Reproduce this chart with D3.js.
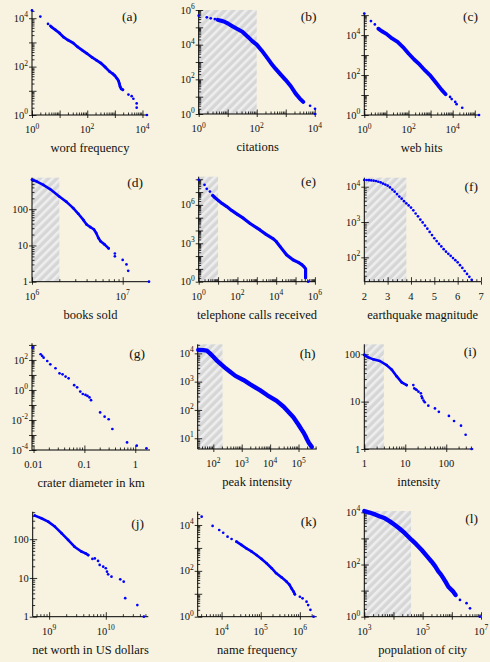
<!DOCTYPE html>
<html><head><meta charset="utf-8">
<script src="https://cdn.jsdelivr.net/npm/d3@7"></script>
<style>
html,body{margin:0;padding:0;background:#f7f3e0;}
svg{display:block;}
</style></head><body>
<svg id="chart" width="490" height="662"></svg>
<script>
// ---------------- DATA ----------------
const panelLetters = ['(a)','(b)','(c)','(d)','(e)','(f)','(g)','(h)','(i)','(j)','(k)','(l)'];
const axisTitles = ['word frequency','citations','web hits','books sold','telephone calls received',
  'earthquake magnitude','crater diameter in km','peak intensity','intensity',
  'net worth in US dollars','name frequency','population of city'];

// (a) word frequency
const wordFreqCurve = [[5,4400],[7,3300],[10,2400],[14,1650],[20,1250],[31,940],[45,650],[65,480],[100,340],[150,240],[220,180],[316,138],[450,95],[650,62],[850,50],[1000,42],[1200,32],[1350,26],[1450,20],[1550,15],[1700,12],[1950,11]];
const wordFreqPoints = [[1,21000],[2,11700],[3.8,5800],[4.6,4800],[3100,7],[4070,6],[4680,4.7],[6170,3],[6170,2],[14500,1]];
const wordFreqXTicks = [1,1e2,1e4];
const wordFreqYTicks = [1,1e2,1e4];

// (b) citations
const citationsCurve = [[4.5,270000],[6,240000],[8,205000],[10,170000],[14,120000],[20,85000],[32,56000],[50,28000],[70,16000],[100,10000],[150,4500],[220,1900],[316,830],[450,400],[650,200],[1000,91],[1500,40],[2200,15],[3000,8],[4000,5]];
const citationsPoints = [[1,470000],[1.9,380000],[2.6,330000],[3.6,300000],[6900,3],[10200,2],[10200,1]];
const citationsXTicks = [1,1e2,1e4];
const citationsYTicks = [1,1e2,1e4,1e6];

// (c) web hits
const webHitsCurve = [[4.3,21000],[6,16000],[10,11500],[18,6800],[32,4600],[56,2500],[100,1200],[180,600],[316,340],[560,170],[1000,90],[1800,40],[3160,18],[4800,11]];
const webHitsPoints = [[1,120000],[2,50000],[3,34000],[7600,8],[9000,6.3],[13000,4.5],[15000,3.5],[27000,2.3],[155000,1]];
const webHitsXTicks = [1,1e2,1e4];
const webHitsYTicks = [1,1e2,1e4];

// (d) books sold
const booksCurve = [[1e6,650],[1.12e6,590],[1.33e6,470],[1.58e6,360],[2e6,224],[2.4e6,160],[2.85e6,107],[3.24e6,75],[3.7e6,50],[4e6,38],[4.4e6,32],[4.8e6,28],[5.1e6,22],[5.4e6,16],[5.7e6,13],[6.3e6,10.7],[7e6,8.3]];
const booksPoints = [[8.2e6,6],[8.2e6,5],[1e7,4],[1.1e7,3],[1.15e7,2],[1.95e7,1]];
const booksXTicks = [1e6,1e7];
const booksYTicks = [1,10,100];

// (e) telephone calls received
const phoneCurve = [[5.3,5.4e6],[7,3.6e6],[10,2.3e6],[16,1.3e6],[28,7.4e5],[50,3.7e5],[100,1.8e5],[200,9.1e4],[450,3.5e4],[1000,1.6e4],[1450,1.1e4],[3000,5000],[7100,2200],[10000,1400],[16000,550],[35000,123],[76000,50],[140000,32],[200000,23],[270000,15],[330000,10],[330000,5.5],[330000,3.3],[330000,2]];
const phonePoints = [[1,9.1e7],[2,3.7e7],[2.6,1.8e7],[3.8,1.1e7],[450000,1]];
const phoneXTicks = [1,1e2,1e4,1e6];
const phoneYTicks = [1,1e3,1e6];

// (f) earthquake magnitude
const quakeMagnitude = [2.0,2.1,2.2,2.3,2.4,2.5,2.6,2.7,2.8,2.9,3.0,3.1,3.2,3.3,3.4,3.5,3.6,3.7,3.8,3.9,4.0,4.1,4.2,4.3,4.4,4.5,4.6,4.7,4.8,4.9,5.0,5.1,5.2,5.3,5.4,5.5,5.6,5.7,5.8,5.9,6.0,6.1,6.2,6.3,6.4,6.5,6.6];
const quakeCount = [15500,15500,15300,15100,14800,14500,13800,13200,12300,11500,10700,9550,8300,7240,6170,5250,4570,3890,3390,2950,2570,2140,1740,1450,1175,977,794,646,525,427,347,288,240,204,170,145,126,110,95,83,72,60,50,41,34,28,23];
const quakeXTicks = [2,3,4,5,6,7];
const quakeYTicks = [1e2,1e3,1e4];

// (g) crater diameter in km
const craterPoints = [[0.0096,660],[0.0138,240],[0.0148,186],[0.0158,141],[0.0186,85],[0.0214,51],[0.027,28],[0.0324,12.9],[0.0372,11],[0.0427,7.8],[0.049,6],[0.063,2.1],[0.072,1.5],[0.083,0.78],[0.093,0.54],[0.105,0.47],[0.115,0.4],[0.126,0.32],[0.135,0.21],[0.204,0.032],[0.25,0.0166],[0.3,0.0112],[0.355,0.0025],[0.69,0.00032],[1.07,0.000195],[1.66,0.000129]];
const craterXTicks = [0.01,0.1,1];
const craterYTicks = [1e-4,1e-2,1,1e2];

// (h) peak intensity
const flareCurve = [[29.5,13100],[45,13000],[59,12500],[76,10000],[100,7600],[140,5300],[198,3900],[280,2900],[390,2240],[600,1600],[1140,1150],[2000,800],[4370,500],[8000,330],[17000,210],[30000,130],[66000,55],[100000,30],[125000,21],[150000,16],[175000,12],[200000,9],[230000,7],[290000,5]];
const flareXTicks = [1e2,1e3,1e4,1e5];
const flareYTicks = [1e1,1e2,1e3,1e4];

// (i) intensity (wars)
const warCurve = [[1,97],[1.25,86],[1.66,78],[2.4,72],[3.5,59],[4.7,47],[6.2,34],[8.2,25.6],[10.8,22.4]];
const warPoints = [[15.7,22.4],[16.6,19],[18,18.2],[19,17.6],[21,16.2],[24,15],[25,13],[26,11.8],[28,10.5],[30,9.7],[36.5,8.2],[53,7.2],[66,6.1],[116,5],[155,3.9],[229,3.1],[297,2],[417,1]];
const warXTicks = [1,10,100];
const warYTicks = [1,10,100];

// (j) net worth in US dollars
const wealthCurve = [[5.6e8,407],[7.3e8,347],[9.6e8,285],[1.26e9,212],[1.65e9,143],[2.16e9,96],[2.8e9,64],[3.7e9,48],[4.4e9,43],[4.9e9,39]];
const wealthPoints = [[5.8e9,31],[6.4e9,32],[7.3e9,27.5],[7.8e9,21.7],[9e9,19.6],[1e10,17.8],[1.05e10,14.5],[1.1e10,12.4],[1.26e10,10.8],[1.8e10,9.2],[2.07e10,8],[2.2e10,3],[3.6e10,2],[4.7e10,1]];
const wealthXTicks = [1e9,1e10];
const wealthYTicks = [1,10,100];

// (k) name frequency
const nameCurve = [[24000,1870],[32000,1350],[43000,960],[58000,700],[78000,490],[105000,330],[141000,215],[190000,130],[250000,78],[340000,52],[455000,34],[540000,25],[615000,17],[700000,12],[745000,9.5]];
const namePoints = [[3100,23000],[5900,9100],[8700,6050],[11000,4600],[14200,3100],[18000,2450],[1e6,7.4],[1.17e6,6.3],[1.48e6,4.5],[1.63e6,3.2],[1.86e6,2],[2.24e6,1]];
const nameXTicks = [1e4,1e5,1e6];
const nameYTicks = [1,1e2,1e4];

// (l) population of city
const cityCurve = [[1000,11200],[1500,9800],[2340,8300],[3300,7100],[5100,5900],[7500,4500],[11200,3240],[16000,2400],[24500,1580],[42000,870],[60000,600],[93000,360],[140000,210],[204000,128],[270000,85],[340000,56],[420000,42],[510000,30],[620000,21],[760000,14],[1.12e6,9.1],[1.35e6,6.8]];
const cityPoints = [[1.9e6,4.4],[3.2e6,3.3],[4.2e6,2.1],[9.1e6,1]];
const cityXTicks = [1e3,1e5,1e7];
const cityYTicks = [1,1e2,1e4];

// ---------------- DRAWING ----------------
const P = e => Math.pow(10, e);
const BLUE = '#0000ff';
const FONT = '"Liberation Serif","Times New Roman",Times,serif';

const panels = [
 {curve:wordFreqCurve, points:wordFreqPoints, L:32, R:148, T:9.5, B:115, xd:[1,P(4.2)], yd:[1,P(4.36)], xt:wordFreqXTicks, yt:wordFreqYTicks, xf:'pow', yf:'pow', lw:2.8, lx:137, ly:21},
 {curve:citationsCurve, points:citationsPoints, L:198.7, R:316.5, T:10, B:114, xd:[1,P(4.06)], yd:[1,1e6], xt:citationsXTicks, yt:citationsYTicks, xf:'pow', yf:'pow', lw:4, lx:316.5, ly:21, hatch:[1,100]},
 {curve:webHitsCurve, points:webHitsPoints, L:364.3, R:479, T:12.7, B:115, xd:[1,P(5.19)], yd:[1,P(5.12)], xt:webHitsXTicks, yt:webHitsYTicks, xf:'pow', yf:'pow', lw:3.8, lx:478, ly:21},
 {curve:booksCurve, points:booksPoints, L:32, R:149, T:177.7, B:281.7, xd:[1e6,P(7.29)], yd:[1,P(2.87)], xt:booksXTicks, yt:booksYTicks, xf:'pow', yf:'plain', lw:2.6, lx:143, ly:187, hatch:[1e6,2e6]},
 {curve:phoneCurve, points:phonePoints, L:198.7, R:315.5, T:176.7, B:281.7, xd:[1,P(6.03)], yd:[1,P(8.2)], xt:phoneXTicks, yt:phoneYTicks, xf:'pow', yf:'pow', lw:3.2, lx:316, ly:186, hatch:[1,10]},
 {curve:null, points:d3.zip(quakeMagnitude, quakeCount), L:364.3, R:481, T:177.7, B:281.7, xlin:true, xd:[2,7], yd:[P(1.31),P(4.255)], xt:quakeXTicks, yt:quakeYTicks, xf:'plain', yf:'pow', lw:0, lx:478, ly:190.5, hatch:[2,3.8]},
 {curve:null, points:craterPoints, L:32, R:150, T:343.3, B:450, xd:[P(-2.03),P(0.29)], yd:[1e-4,P(3.11)], xt:craterXTicks, yt:craterYTicks, xf:'plain', yf:'pow', lw:0, lx:145, ly:358},
 {curve:flareCurve, points:[], L:197.7, R:316.7, T:344.3, B:449, xd:[P(1.45),P(5.64)], yd:[P(0.62),P(4.32)], xt:flareXTicks, yt:flareYTicks, xf:'pow', yf:'pow', lw:4.4, lx:315.5, ly:358, hatch:[P(1.45),210]},
 {curve:warCurve, points:warPoints, L:364.3, R:473.3, T:344.3, B:449, xd:[1,P(2.66)], yd:[1,P(2.21)], xt:warXTicks, yt:warYTicks, xf:'plain', yf:'plain', lw:2.6, lx:476.5, ly:356, hatch:[1,3]},
 {curve:wealthCurve, points:wealthPoints, L:32.7, R:148.3, T:511.7, B:616.7, xd:[P(8.71),P(10.75)], yd:[1,P(2.71)], xt:wealthXTicks, yt:wealthYTicks, xf:'pow', yf:'plain', lw:2.6, lx:144, ly:528},
 {curve:nameCurve, points:namePoints, L:197.7, R:316.7, T:511.7, B:616.7, xd:[P(3.39),P(6.43)], yd:[1,P(4.58)], xt:nameXTicks, yt:nameYTicks, xf:'pow', yf:'pow', lw:2.6, lx:316.5, ly:526},
 {curve:cityCurve, points:cityPoints, L:364.3, R:481, T:511, B:616.7, xd:[1e3,1e7], yd:[1,P(4.05)], xt:cityXTicks, yt:cityYTicks, xf:'pow', yf:'pow', lw:4.4, lx:478, ly:523, hatch:[1e3,4e4]}
];

const svg = d3.select('#chart');
const defs = svg.append('defs');
const pat = defs.append('pattern').attr('id','hatch').attr('patternUnits','userSpaceOnUse')
  .attr('width',6).attr('height',6).attr('patternTransform','rotate(45)');
pat.append('rect').attr('width',6).attr('height',6).attr('fill','#d6d6d6');
pat.append('rect').attr('width',2.6).attr('height',6).attr('fill','#eeeeee');

function logTickVals(dom){
  const lo = Math.log10(dom[0]), hi = Math.log10(dom[1]);
  const major = [], minor = [];
  for (let k = Math.floor(lo) - 1; k <= Math.ceil(hi); k++) {
    for (let m = 1; m <= 9; m++) {
      const v = m * Math.pow(10, k), lv = Math.log10(v);
      if (lv < lo - 1e-6 || lv > hi + 1e-6) continue;
      (m === 1 ? major : minor).push(v);
    }
  }
  return {major, minor};
}
function linTickVals(dom){
  const major = d3.range(Math.ceil(dom[0]), dom[1] + 1e-9, 1);
  const minor = d3.range(dom[0], dom[1] + 1e-9, 0.2).filter(v => Math.abs(v - Math.round(v)) > 1e-6);
  return {major, minor};
}

function addLabel(g, x, y, v, fmt, anchor){
  const t = g.append('text').attr('x', x).attr('y', y).attr('text-anchor', anchor)
    .attr('font-family', FONT).attr('font-size', 10.5).attr('fill', '#111');
  if (fmt === 'pow') {
    const e = Math.round(Math.log10(v));
    t.append('tspan').text('10');
    t.append('tspan').attr('dy', -4.5).attr('font-size', 7.5).text(e < 0 ? '-' + (-e) : String(e));
  } else {
    t.text(String(v));
  }
}

function styleAxis(sel){
  sel.selectAll('line').attr('stroke', '#000').attr('stroke-width', 0.8);
  sel.selectAll('.domain').remove();
  sel.selectAll('text').remove();
}

panels.forEach((p, i) => {
  const g = svg.append('g');
  const xs = (p.xlin ? d3.scaleLinear() : d3.scaleLog()).domain(p.xd).range([p.L, p.R]);
  const ys = d3.scaleLog().domain(p.yd).range([p.B, p.T]);

  if (p.hatch) {
    g.append('rect').attr('x', xs(p.hatch[0])).attr('y', p.T)
      .attr('width', xs(p.hatch[1]) - xs(p.hatch[0])).attr('height', p.B - p.T)
      .attr('fill', 'url(#hatch)');
  }

  const xtv = p.xlin ? linTickVals(p.xd) : logTickVals(p.xd);
  const ytv = logTickVals(p.yd);

  const gx = g.append('g').attr('transform', `translate(0,${p.B})`);
  gx.append('g').call(d3.axisBottom(xs).tickValues(xtv.minor).tickSize(-2.5).tickFormat('')).call(styleAxis);
  gx.append('g').call(d3.axisBottom(xs).tickValues(xtv.major).tickSize(-4.5).tickFormat('')).call(styleAxis);
  gx.append('g').call(d3.axisBottom(xs).tickValues(xtv.major).tickSize(3).tickFormat('')).call(styleAxis);
  const gy = g.append('g').attr('transform', `translate(${p.L},0)`);
  gy.append('g').call(d3.axisLeft(ys).tickValues(ytv.minor).tickSize(-2.5).tickFormat('')).call(styleAxis);
  gy.append('g').call(d3.axisLeft(ys).tickValues(ytv.major).tickSize(-4.5).tickFormat('')).call(styleAxis);
  gy.append('g').call(d3.axisLeft(ys).tickValues(ytv.major).tickSize(3).tickFormat('')).call(styleAxis);

  g.append('line').attr('x1', p.L).attr('x2', p.L).attr('y1', p.T).attr('y2', p.B).attr('stroke', '#000').attr('stroke-width', 1);
  g.append('line').attr('x1', p.L).attr('x2', p.R).attr('y1', p.B).attr('y2', p.B).attr('stroke', '#000').attr('stroke-width', 1);

  p.xt.forEach(v => addLabel(g, xs(v), p.B + 18, v, p.xf, 'middle'));
  p.yt.forEach(v => addLabel(g, p.L - 4, ys(v) + 3.6, v, p.yf, 'end'));

  g.append('text').attr('x', (p.L + p.R) / 2).attr('y', p.B + 37).attr('text-anchor', 'middle')
    .attr('font-family', FONT).attr('font-size', 12.5).attr('fill', '#111').text(axisTitles[i]);
  g.append('text').attr('x', p.lx).attr('y', p.ly).attr('text-anchor', 'end')
    .attr('font-family', FONT).attr('font-size', 13.5).attr('fill', '#111').text(panelLetters[i]);

  if (p.curve) {
    g.append('path').datum(p.curve)
      .attr('d', d3.line().x(d => xs(d[0])).y(d => ys(d[1])))
      .attr('fill', 'none').attr('stroke', BLUE).attr('stroke-width', p.lw)
      .attr('stroke-linecap', 'round').attr('stroke-linejoin', 'round');
  }
  const all = (p.curve || []).concat(p.points || []);
  g.append('g').selectAll('circle').data(all).join('circle')
    .attr('cx', d => xs(d[0])).attr('cy', d => ys(d[1])).attr('r', 1.35).attr('fill', BLUE);
});
</script>
</body></html>
